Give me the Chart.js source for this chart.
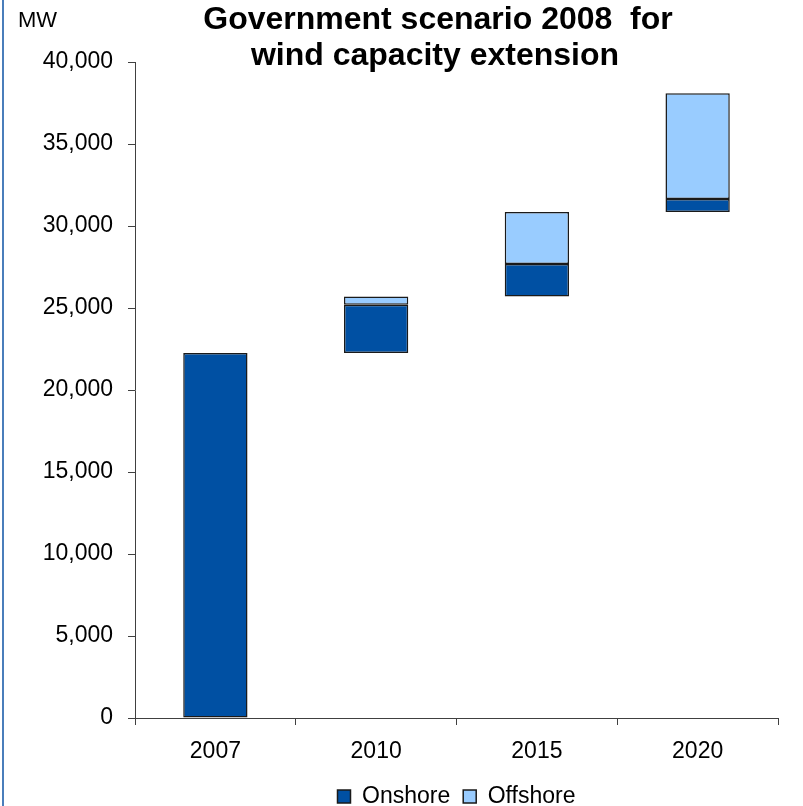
<!DOCTYPE html>
<html>
<head>
<meta charset="utf-8">
<script src="https://cdn.jsdelivr.net/npm/chart.js@4.4.0/dist/chart.umd.min.js"></script>
<style>
  html, body { margin: 0; padding: 0; overflow: hidden; background: #fff; }
  canvas { display: block; }
</style>
</head>
<body>
<canvas id="windChart" width="803" height="818"></canvas>
<script>
  // values (MW)
  const years = ["2007", "2010", "2015", "2020"];
  const onshoreFrom = [0, 22250, 25700, 30850];
  const onshoreTo = [22250, 25200, 27680, 31650];
  const offshoreFrom = [null, 25200, 27680, 31650];
  const offshoreTo = [null, 25700, 30850, 38100];
  const yTicks = [0, 5000, 10000, 15000, 20000, 25000, 30000, 35000, 40000];

  const titleLines = ["Government scenario 2008  for", "wind capacity extension"];
  const unitLabel = "MW";
  const fontFamily = "'Liberation Sans', Arial, sans-serif";

  function ranges(from, to) {
      return years.map((y, i) => (from[i] === null ? null : [from[i], to[i]]));
  }

  // title, unit and the blue page edge are drawn on the canvas
  const decorPlugin = {
      id: "decor",
      beforeDraw(chart) {
          const ctx = chart.ctx;
          ctx.save();
          ctx.fillStyle = "#4A7EBB";
          ctx.fillRect(2, 0, 2, chart.height);
          ctx.restore();
      },
      afterDraw(chart) {
          const ctx = chart.ctx;
          ctx.save();
          ctx.fillStyle = "#000";
          ctx.textAlign = "left";
          ctx.textBaseline = "alphabetic";
          ctx.font = "22px " + fontFamily;
          ctx.fillText(unitLabel, 18, 27);

          ctx.textAlign = "center";
          ctx.font = "bold 32px " + fontFamily;
          ctx.fillText(titleLines[0], 438, 29);
          ctx.fillText(titleLines[1], 435, 65);
          ctx.restore();
      }
  };

  const ctxWind = document.getElementById("windChart").getContext("2d");

  const windChart = new Chart(ctxWind, {
      type: "bar",
      data: {
          labels: years,
          datasets: [{
              label: "Onshore",
              data: ranges(onshoreFrom, onshoreTo),
              backgroundColor: "#0050A3",
              borderColor: "#1a1a1a",
              borderWidth: 1.5,
              borderSkipped: false,
              grouped: false,
              barPercentage: 0.4,
              categoryPercentage: 1.0,
          }, {
              label: "Offshore",
              data: ranges(offshoreFrom, offshoreTo),
              backgroundColor: "#99CCFF",
              borderColor: "#1a1a1a",
              borderWidth: 1.5,
              borderSkipped: false,
              grouped: false,
              barPercentage: 0.4,
              categoryPercentage: 1.0,
          }],
      },
      options: {
          responsive: false,
          animation: false,
          devicePixelRatio: 1,
          layout: {
              padding: { top: 62, right: 25, left: 0, bottom: 0 },
          },
          scales: {
              x: {
                  grid: {
                      offset: true,
                      drawOnChartArea: false,
                      tickLength: 7,
                      color: "#404040",
                  },
                  border: { color: "#404040", width: 1 },
                  ticks: {
                      color: "#000",
                      padding: 13,
                      font: { family: fontFamily, size: 23 },
                  },
                  afterFit: function(scale) {
                      scale.height = 54;
                  },
              },
              y: {
                  min: 0,
                  max: 40000,
                  afterBuildTicks: function(scale) {
                      scale.ticks = yTicks.map(v => ({ value: v }));
                  },
                  grid: {
                      drawOnChartArea: false,
                      tickLength: 7,
                      color: "#404040",
                  },
                  border: { color: "#404040", width: 1 },
                  ticks: {
                      color: "#000",
                      padding: 15,
                      font: { family: fontFamily, size: 23 },
                      callback: function(value) {
                          return value.toLocaleString("en-US");
                      },
                  },
                  afterFit: function(scale) {
                      scale.width = 135;
                  },
              },
          },
          plugins: {
              title: { display: false },
              tooltip: { enabled: false },
              legend: {
                  position: "bottom",
                  fullSize: false,
                  labels: {
                      boxWidth: 13,
                      boxHeight: 13,
                      padding: 13,
                      color: "#000",
                      font: { family: fontFamily, size: 23 },
                  },
              },
          },
      },
      plugins: [decorPlugin],
  });
</script>
</body>
</html>
